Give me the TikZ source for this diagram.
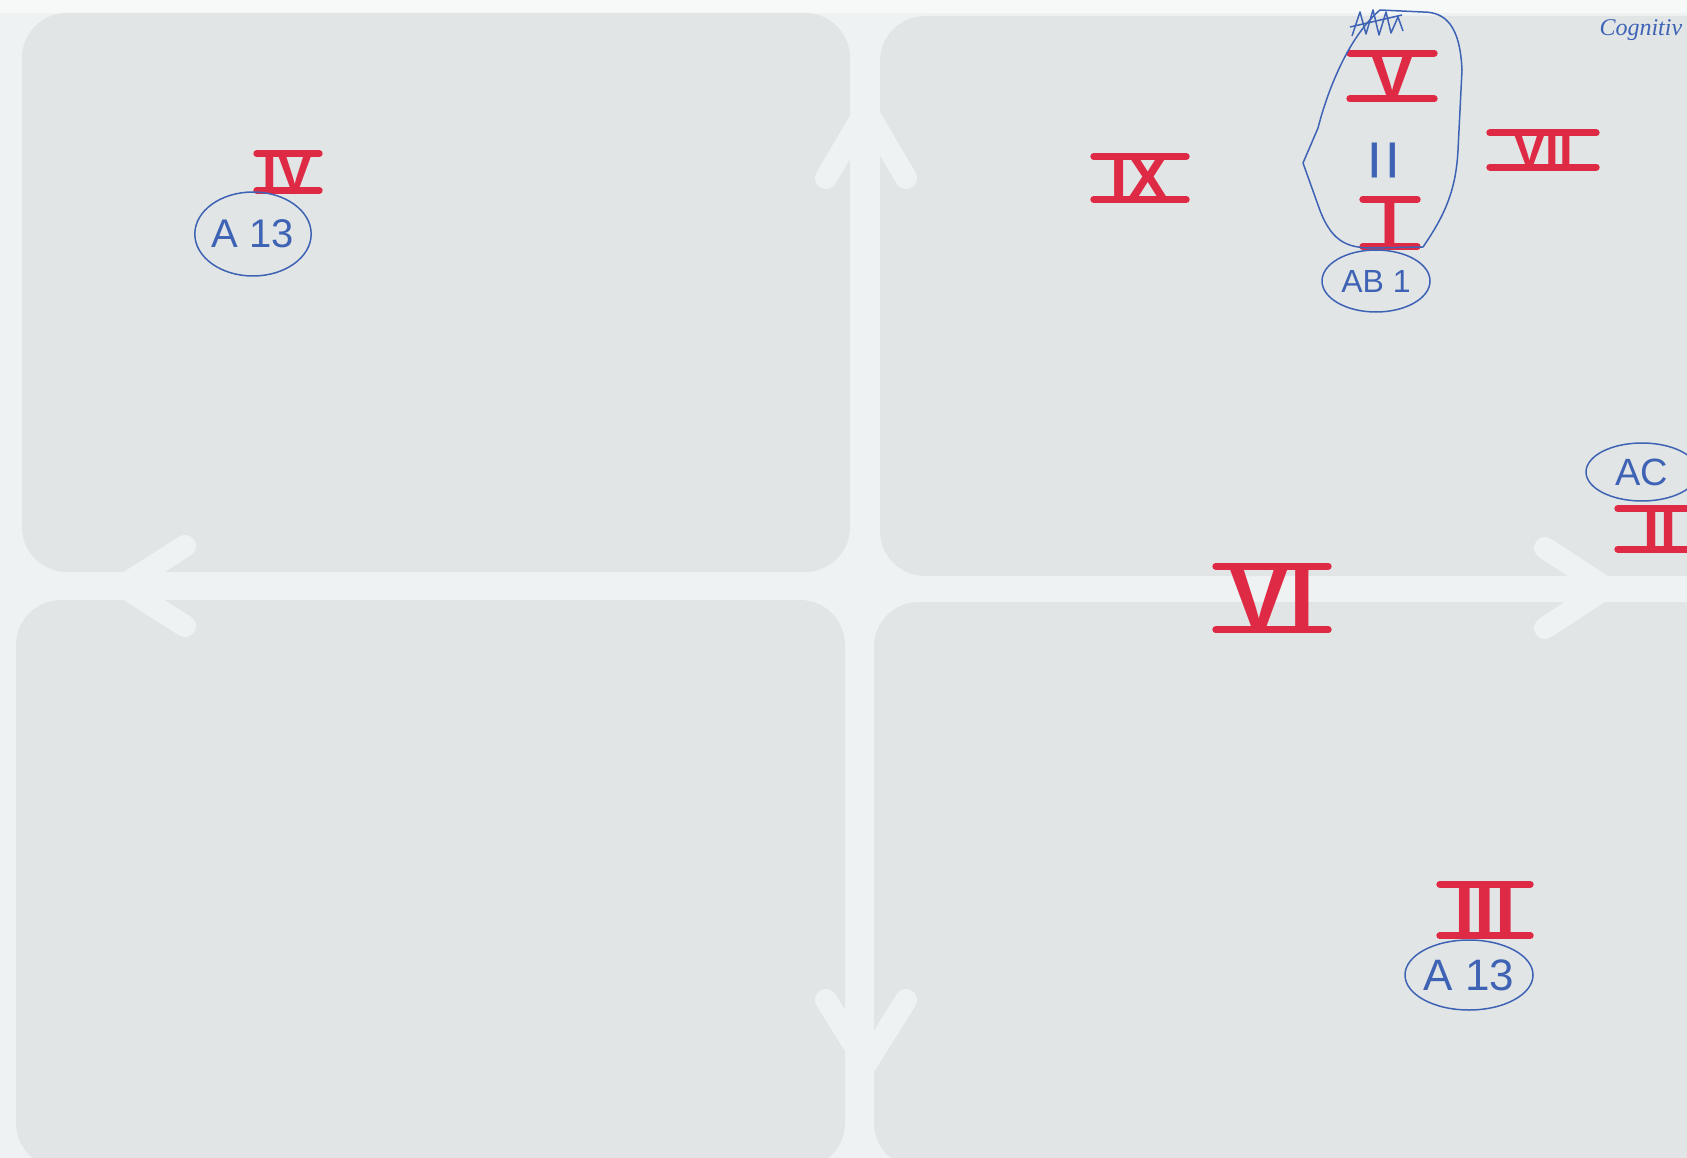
\documentclass[tikz,border=0pt]{standalone}
\usepackage{fontspec}
\setmainfont{Liberation Sans}
\newfontfamily\penfont{Liberation Serif}
\usepackage{tikz}
\usetikzlibrary{positioning, shapes.geometric}
\definecolor{paper}{HTML}{EFF2F2}
\definecolor{sheet}{HTML}{F7F8F8}
\definecolor{pane}{HTML}{E1E5E6}
\definecolor{marker}{HTML}{DE2A45}
\definecolor{pen}{HTML}{3F63B4}
\newcommand\marksize[1]{\bfseries\fontsize{#1}{#1}\selectfont}
\newcommand\pensize[1]{\fontsize{#1}{#1}\selectfont}

\begin{document}
\begin{tikzpicture}[x=1pt, y=-1pt,
    pane/.style={fill=pane, rounded corners=45pt},
    chevron/.style={draw=paper, line width=22pt, line cap=round, line join=round},
    bar/.style={draw=marker, line width=7pt, line cap=round},
    numeral/.style={text=marker, inner ysep=0pt, inner xsep=4pt,
      append after command={
        (\tikzlastnode.north west) edge[bar] (\tikzlastnode.north east)
        (\tikzlastnode.south west) edge[bar] (\tikzlastnode.south east)}},
    tag/.style={ellipse, draw=pen, line width=1.5pt, text=pen, inner sep=0pt},
    scrawl/.style={draw=pen, line width=1.5pt, line join=round}]
  \useasboundingbox (0,0) rectangle (1687,1158);
  \clip (0,0) rectangle (1687,1158);
  % ---- sheet and the four panes ----
  \fill[paper] (0,0) rectangle (1687,1158);
  \fill[sheet] (0,0) rectangle (1687,13);
  \fill[pane] (22,13) rectangle (850,572);
  \fill[pane] (880,16) rectangle (1740,576);
  \fill[pane] (16,600) rectangle (845,1168);
  \fill[pane] (874,602) rectangle (1740,1168);
  % ---- axis arrow heads in the gaps ----
  \draw[chevron] (826,178) -- (866,110) -- (906,178);
  \draw[chevron] (826,1000) -- (866,1064) -- (906,1000);
  \draw[chevron] (185,546) -- (122,586) -- (185,626);
  \draw[chevron] (1545,548) -- (1606,588) -- (1545,628);
  % ---- top left pane ----
  \node[numeral, font=\marksize{53}, minimum width=62pt] (four) at (288,172) {IV};
  \node[tag, font=\pensize{40}, minimum width=114pt, minimum height=84pt] (a13top) at (253,234) {A 13};
  % ---- top right pane ----
  \node[numeral, font=\marksize{62}, minimum width=92pt] (nine) at (1140,178) {IX};
  \node[numeral, font=\marksize{66}, minimum width=84pt] (five) at (1392,76) {V};
  \node[text=pen, rotate=90, font=\pensize{72}] (same) at (1390,160) {=};
  \node[numeral, font=\marksize{68}, minimum width=54pt] (one) at (1390,223) {I};
  \draw[scrawl] (1380,10) .. controls (1345,40) and (1325,100) .. (1318,128)
        -- (1303,163) -- (1318,205) .. controls (1330,240) and (1345,248) .. (1372,248)
        -- (1423,247) .. controls (1445,215) and (1456,190) .. (1458,150)
        -- (1462,70) .. controls (1460,25) and (1445,12) .. (1423,12) -- cycle;
  \draw[scrawl] (1352,36) -- (1360,12) -- (1366,34) -- (1373,10) -- (1379,35)
        -- (1386,12) -- (1391,33) -- (1398,17) -- (1403,31);
  \draw[scrawl] (1350,27) -- (1402,15);
  \node[tag, font=\pensize{32}, minimum width=108pt, minimum height=62pt] (ab1) at (1376,281) {AB 1};
  \node[numeral, font=\marksize{49}, minimum width=106pt] (seven) at (1543,150) {VII};
  \node[text=pen, anchor=west, font=\penfont\itshape\pensize{24}] (cognitive) at (1596,30) {Cognitiv};
  \node[tag, font=\pensize{38}, minimum width=112pt, minimum height=58pt] (ac) at (1642,472) {AC};
  \node[numeral, font=\marksize{58}, minimum width=84pt] (two) at (1660,529) {II};
  % ---- on the horizontal axis ----
  \node[numeral, font=\marksize{92}, minimum width=112pt] (six) at (1272,598) {VI};
  % ---- bottom right pane ----
  \node[numeral, font=\marksize{74}, minimum width=90pt] (three) at (1485,910) {III};
  \node[tag, font=\pensize{44}, minimum width=128pt, minimum height=70pt] (a13low) at (1469,975) {A 13};
\end{tikzpicture}
\end{document}
